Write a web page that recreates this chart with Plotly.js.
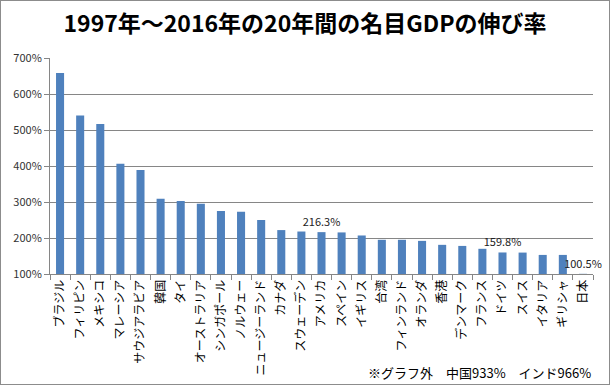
<!DOCTYPE html>
<html><head><meta charset="utf-8">
<script src="https://cdn.plot.ly/plotly-3.0.1.min.js"></script>
<style>
html,body{margin:0;padding:0;background:#fff;}
#chart{width:610px;height:385px;box-sizing:border-box;border:1px solid #8c8c8c;}
</style></head>
<body><div id="chart"></div>
<script>
const categories = ['ブラジル','フィリピン','メキシコ','マレーシア','サウジアラビア','韓国','タイ','オーストラリア','シンガポール','ノルウェー','ニュージーランド','カナダ','スウェーデン','アメリカ','スペイン','イギリス','台湾','フィンランド','オランダ','香港','デンマーク','フランス','ドイツ','スイス','イタリア','ギリシャ','日本'];
const growthPct = [658, 540, 517, 406, 389, 309, 303, 295, 275, 273, 250, 222, 218, 216.3, 215.5, 207, 195, 195, 192, 181, 178, 170, 159.8, 159.5, 153, 153, 100.5];
const labelled = ['アメリカ','ドイツ','日本'];
const yTicks = [100, 200, 300, 400, 500, 600, 700];
const titleText = '1997年～2016年の20年間の名目GDPの伸び率';
const noteText = '※グラフ外　中国933%　インド966%';

const labels = growthPct.map((v,i)=> labelled.includes(categories[i]) ? v.toFixed(1)+'%' : '');
const FONT = '"Noto Sans CJK JP", "Noto Sans", sans-serif';

const trace = {
  type:'bar', x:categories, y:growthPct,
  marker:{color:'#4f81bd'},
  text:labels, textposition:'outside', constraintext:'none', cliponaxis:false,
  textfont:{family:FONT, size:11, color:'#222'},
  hoverinfo:'none'
};
const layout = {
  width:608, height:383,
  margin:{l:49, r:16, t:57, b:110},
  paper_bgcolor:'#fff', plot_bgcolor:'#fff',
  bargap:0.6, showlegend:false,
  title:{text:titleText, font:{family:FONT, size:23, color:'#000', weight:'bold'}, x:0.5, xanchor:'center', y:0.94, yanchor:'middle'},
  xaxis:{type:'category', tickson:'boundaries', ticks:'outside', ticklen:5, tickcolor:'#868686',
    showline:true, linecolor:'#868686', linewidth:1, tickangle:-90, showgrid:false,
    tickfont:{family:FONT, size:12, color:'#000'}},
  yaxis:{range:[100,700], tickvals:yTicks, ticktext:yTicks.map(v=>v+'%'), ticks:'outside', ticklen:5, tickcolor:'#868686',
    showline:true, linecolor:'#868686', gridcolor:'#868686', gridwidth:1, zeroline:false,
    tickfont:{family:FONT, size:11, color:'#333'}},
  annotations:[{text:noteText, xref:'paper', yref:'paper', x:1.0, y:-0.455, xanchor:'right', yanchor:'middle', showarrow:false,
    font:{family:FONT, size:13, color:'#000'}}]
};
Plotly.newPlot('chart',[trace],layout,{displayModeBar:false, staticPlot:true});
</script></body></html>
